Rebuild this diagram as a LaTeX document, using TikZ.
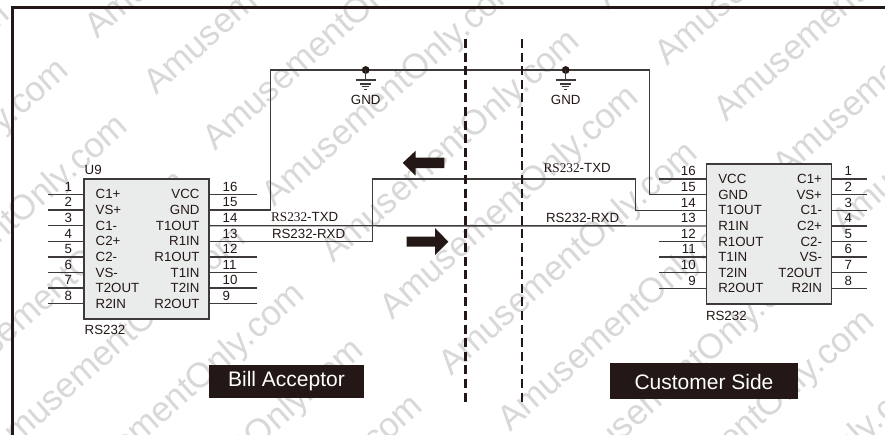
\documentclass[tikz,border=0pt]{standalone}
\usepackage{fontspec}
\setmainfont{Liberation Sans}
\newfontfamily\serifpart{Liberation Serif}
\definecolor{ink}{HTML}{231815}
\definecolor{wire}{HTML}{3E3A39}
\definecolor{wmark}{HTML}{D8D8D8}
\definecolor{chipfill}{HTML}{EAECEB}
\tikzset{
  every node/.style={inner sep=0pt,outer sep=0pt,text=ink,font=\fontsize{13.3}{13.3}\selectfont},
  wirepath/.style={draw=wire,line width=1.4pt},
  chip/.style={draw=wire,line width=1.5pt,fill=chipfill},
  divider/.style={draw=ink,line width=2.8pt,dash pattern=on 9pt off 4.6pt},
  frameline/.style={draw=ink,line width=2.7pt},
  banner/.style={fill=ink,text=white,font=\fontsize{21}{21}\selectfont,align=center},
  wm/.style={text=wmark,font=\fontsize{35}{35}\selectfont,rotate=41.5,anchor=base west},
  gndbar/.style={draw=wire,line width=1.2pt},
  blockarrow/.style={fill=ink,draw=none}
}
\begin{document}
\begin{tikzpicture}[x=1pt,y=-1pt]
\useasboundingbox (0,0) rectangle (885,435);
\fill[white] (0,0) rectangle (885,435);
% watermark: keep only the instances that reach the canvas
\begin{scope}
\clip (0,0) rectangle (885,435);
\foreach \j in {-3,...,4}{
  \foreach \k in {-8,...,10}{
    \pgfmathtruncatemacro{\sx}{97+59*\k+275*\j}
    \pgfmathtruncatemacro{\sy}{40+56*\k-253*\j}
    \pgfmathtruncatemacro{\show}{and(and(\sx+245>-15,\sx<885),and(\sy>-15,\sy-215<435))}
    \ifnum\show=1
      \node[wm] (w\j\k) at (\sx,\sy) {AmusementOnly.com};
    \fi
  }
}
\end{scope}
% frame
\draw[frameline] (885,7.5) -- (12.5,7.5) -- (12.5,435);
% chips
\node[chip,minimum width=125pt,minimum height=140pt,anchor=north west] (U) at (84,179) {};
\node[chip,minimum width=125pt,minimum height=140pt,anchor=north west] (V) at (706.7,164) {};
% left chip pins
\foreach \i/\y/\lab in {1/194.3/C1+,2/210/VS+,3/225.7/C1-,4/241.3/C2+,5/257/C2-,6/272.7/VS-,7/288/T2OUT,8/303.7/R2IN}{
  \coordinate (ua\i) at (84,\y);
  \coordinate (ub\i) at (48,\y);
  \draw[wirepath] (ub\i) -- (ua\i);
  \node[anchor=base] (uan\i) at (68.3,\y-3) {\i};
  \node[anchor=base west] (ual\i) at (95.7,\y+4.7) {\lab};
}
\foreach \i/\y/\lab in {16/194.3/VCC,15/210/GND,14/225.7/T1OUT,13/241.3/R1IN,12/257/R1OUT,11/272.7/T1IN,10/288/T2IN,9/303.7/R2OUT}{
  \coordinate (ua\i) at (209,\y);
  \coordinate (ub\i) at (257,\y);
  \node[anchor=base west] (uan\i) at (222.7,\y-3) {\i};
  \node[anchor=base east] (ual\i) at (199.5,\y+4.7) {\lab};
}
\foreach \i in {16,12,11,10,9}{\draw[wirepath] (ua\i) -- (ub\i);}
% right chip pins
\foreach \i/\y/\lab in {16/179/VCC,15/194.7/GND,14/210.3/T1OUT,13/226/R1IN,12/241.7/R1OUT,11/257/T1IN,10/272.7/T2IN,9/288.3/R2OUT}{
  \coordinate (va\i) at (706.7,\y);
  \coordinate (vb\i) at (659,\y);
  \node[anchor=base east] (van\i) at (695.7,\y-3) {\i};
  \node[anchor=base west] (val\i) at (718.3,\y+4.7) {\lab};
}
\foreach \i in {16,12,11,10,9}{\draw[wirepath] (vb\i) -- (va\i);}
\foreach \i/\y/\lab in {1/179/C1+,2/194.7/VS+,3/210.3/C1-,4/226/C2+,5/241.7/C2-,6/257/VS-,7/272.7/T2OUT,8/288.3/R2IN}{
  \coordinate (va\i) at (831.7,\y);
  \coordinate (vb\i) at (867,\y);
  \draw[wirepath] (va\i) -- (vb\i);
  \node[anchor=base] (van\i) at (848.3,\y-3) {\i};
  \node[anchor=base east] (val\i) at (822,\y+4.7) {\lab};
}
% chip names
\node[anchor=base west] (u9) at (84.7,175) {U9};
\node[anchor=base west] (un) at (84.7,334) {RS232};
\node[anchor=base west] (vn) at (706,320) {RS232};
% wires
\coordinate (gl) at (365.7,70);
\coordinate (gr) at (565.7,70);
\draw[wirepath] (ua15) -| (270.7,70) -- (gl) -- (gr) -- (649.3,70) |- (va15);
\draw[wirepath] (ua14) -- (va13);
\draw[wirepath] (ua13) -| (372.7,179) -| (635.3,210.3) -- (va14);
% ground symbols
\foreach \n/\x in {gl/365.7,gr/565.7}{
  \fill[ink] (\n) circle (3.9);
  \draw[gndbar] (\n) -- (\x,80);
  \draw[gndbar] (\x-10,80) -- (\x+10,80);
  \draw[gndbar] (\x-5.5,84) -- (\x+5.5,84);
  \draw[gndbar] (\x-3.5,86.7) -- (\x+3.5,86.7);
  \draw[gndbar] (\x-1.5,89.3) -- (\x+1.5,89.3);
  \node[anchor=base] (t\n) at (\x,104.3) {GND};
}
% wire labels
\node[anchor=base west] (a1) at (271,222) {{\serifpart RS232}-TXD};
\node[anchor=base west] (a2) at (272,239) {RS232-RXD};
\node[anchor=base west] (a3) at (543.5,173) {{\serifpart RS232}-TXD};
\node[anchor=base west] (a4) at (546,223) {RS232-RXD};
% dividers
\coordinate (d1t) at (465.3,39); \coordinate (d1b) at (465.3,406);
\coordinate (d2t) at (522,39);   \coordinate (d2b) at (522,406);
\draw[divider] (d1t) -- (d1b);
\draw[divider] (d2t) -- (d2b);
% block arrows
\fill[blockarrow] (402.7,162.9) -- (415.7,150.7) -- (415.7,157.7) -- (444.3,157.7) -- (444.3,168.2) -- (415.7,168.2) -- (415.7,175.7) -- cycle;
\fill[blockarrow] (448.3,241.7) -- (435,228) -- (435,236.7) -- (406.7,236.7) -- (406.7,246.7) -- (435,246.7) -- (435,255) -- cycle;
% banners
\fill[ink] (209,365) rectangle (364,397.7);
\node[banner] (bill) at (286.5,381) {Bill Acceptor};
\fill[ink] (610,363.3) rectangle (798,399.3);
\node[banner] (cust) at (704,382) {Customer Side};
\end{tikzpicture}
\end{document}
